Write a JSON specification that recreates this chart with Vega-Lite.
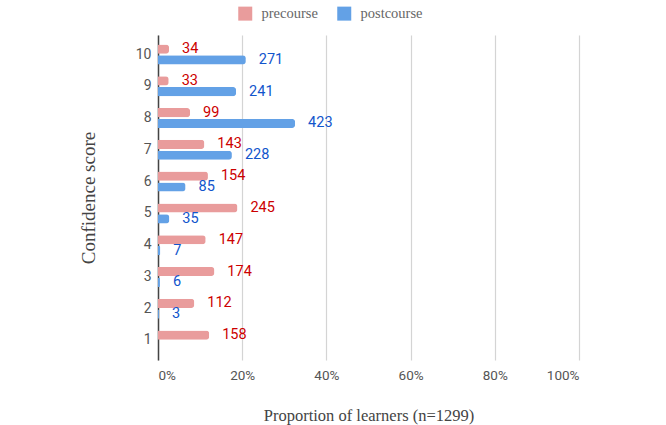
{
  "$schema": "https://vega.github.io/schema/vega-lite/v6.json",
  "autosize": {"type": "none"},
  "padding": {"left": 158, "top": 35, "right": 87, "bottom": 65},
  "width": 421,
  "height": 325,
  "background": "white",
  "config": {"view": {"stroke": null}},
  "data": {"values": [
    {"score": 1, "series": "precourse", "count": 158, "prop": 0.1216},
    {"score": 2, "series": "precourse", "count": 112, "prop": 0.0862},
    {"score": 3, "series": "precourse", "count": 174, "prop": 0.1339},
    {"score": 4, "series": "precourse", "count": 147, "prop": 0.1132},
    {"score": 5, "series": "precourse", "count": 245, "prop": 0.1886},
    {"score": 6, "series": "precourse", "count": 154, "prop": 0.1186},
    {"score": 7, "series": "precourse", "count": 143, "prop": 0.1101},
    {"score": 8, "series": "precourse", "count": 99, "prop": 0.0762},
    {"score": 9, "series": "precourse", "count": 33, "prop": 0.0254},
    {"score": 10, "series": "precourse", "count": 34, "prop": 0.0262},
    {"score": 2, "series": "postcourse", "count": 3, "prop": 0.0023},
    {"score": 3, "series": "postcourse", "count": 6, "prop": 0.0046},
    {"score": 4, "series": "postcourse", "count": 7, "prop": 0.0054},
    {"score": 5, "series": "postcourse", "count": 35, "prop": 0.0269},
    {"score": 6, "series": "postcourse", "count": 85, "prop": 0.0654},
    {"score": 7, "series": "postcourse", "count": 228, "prop": 0.1755},
    {"score": 8, "series": "postcourse", "count": 423, "prop": 0.3256},
    {"score": 9, "series": "postcourse", "count": 241, "prop": 0.1855},
    {"score": 10, "series": "postcourse", "count": 271, "prop": 0.2086}
  ]},
  "encoding": {
    "y": {
      "field": "score", "type": "ordinal",
      "sort": [10, 9, 8, 7, 6, 5, 4, 3, 2, 1],
      "scale": {"paddingInner": 0.37, "paddingOuter": 0.3},
      "axis": {
        "title": "Confidence score",
        "titleFont": "Liberation Serif", "titleFontSize": 19, "titleFontWeight": "normal",
        "titleColor": "#444", "titlePadding": 37,
        "labelFont": "Roboto", "labelFontSize": 14, "labelColor": "#555",
        "labelPadding": 7, "ticks": false,
        "domainColor": "#444", "domainWidth": 1.5
      }
    },
    "yOffset": {
      "field": "series", "type": "nominal",
      "scale": {"domain": ["precourse", "postcourse"], "paddingInner": 0.15}
    },
    "x": {
      "field": "prop", "type": "quantitative",
      "scale": {"domain": [0, 1]},
      "axis": {
        "title": "Proportion of learners (n=1299)",
        "titleFont": "Liberation Serif", "titleFontSize": 16.5, "titleFontWeight": "normal",
        "titleColor": "#444", "titlePadding": 26,
        "format": ".0%", "values": [0, 0.2, 0.4, 0.6, 0.8, 1],
        "labelFont": "Roboto", "labelFontSize": 13.5, "labelColor": "#555",
        "labelPadding": 8, "ticks": false, "domain": false,
        "grid": true, "gridColor": "#d4d4d4", "gridWidth": 1.2
      }
    }
  },
  "layer": [
    {
      "mark": {"type": "bar", "cornerRadiusEnd": 3},
      "encoding": {
        "color": {
          "field": "series", "type": "nominal",
          "scale": {"domain": ["precourse", "postcourse"], "range": ["#e99c9c", "#63a1e6"]},
          "legend": {
            "title": null, "orient": "none", "direction": "horizontal",
            "legendX": 80, "legendY": -29,
            "symbolType": "square", "symbolSize": 196, "symbolStrokeWidth": 0,
            "labelFont": "Liberation Serif", "labelFontSize": 14.5, "labelColor": "#666",
            "labelOffset": 9, "columnPadding": 19
          }
        }
      }
    },
    {
      "mark": {"type": "text", "align": "left", "baseline": "middle", "dx": 13, "font": "Roboto", "fontSize": 14.5},
      "encoding": {
        "text": {"field": "count", "type": "quantitative"},
        "color": {"condition": {"test": "datum.series === 'precourse'", "value": "#cc0000"}, "value": "#1155cc"}
      }
    }
  ]
}
